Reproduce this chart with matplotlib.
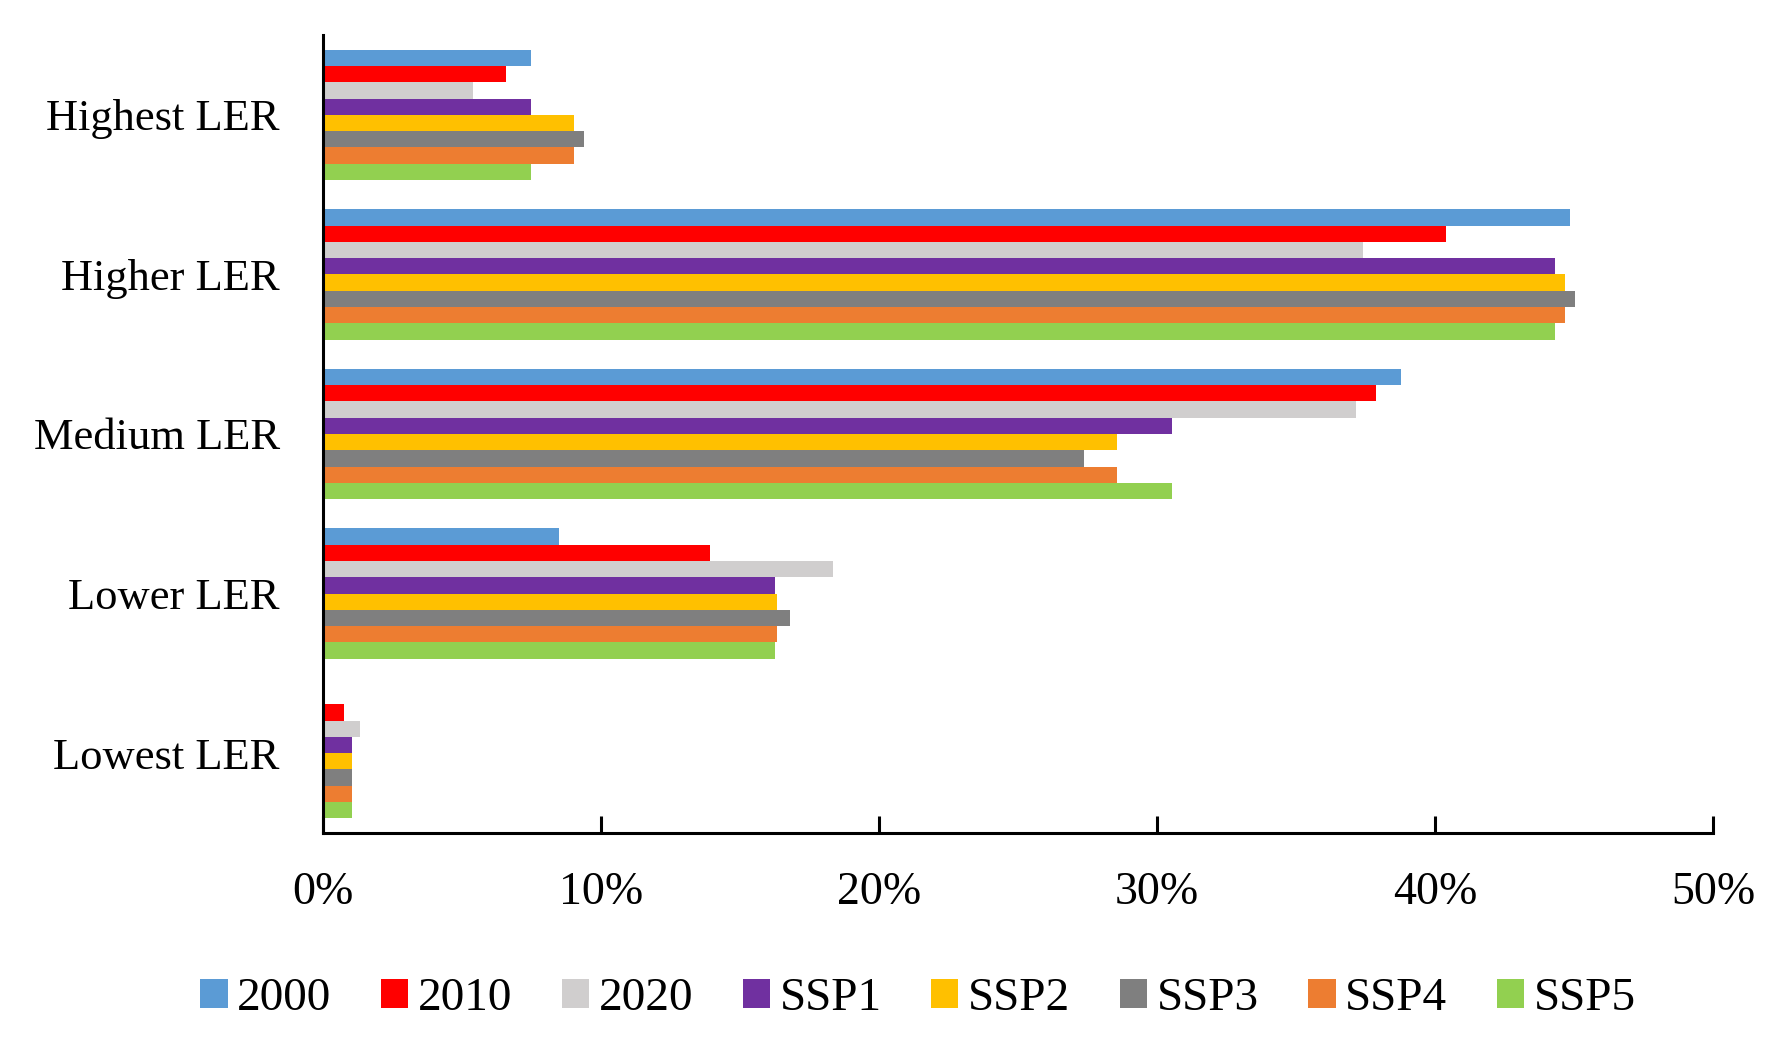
import numpy as np
import matplotlib
matplotlib.use('Agg')
import matplotlib.pyplot as plt
from matplotlib.ticker import PercentFormatter

# share of area in each LER class (%)
categories = ['Highest LER', 'Higher LER', 'Medium LER', 'Lower LER', 'Lowest LER']
series = ['2000', '2010', '2020', 'SSP1', 'SSP2', 'SSP3', 'SSP4', 'SSP5']

v2000 = [7.47, 44.85, 38.77, 8.48, 0.0]
v2010 = [6.58, 40.40, 37.88, 13.92, 0.77]
v2020 = [5.39, 37.40, 37.15, 18.34, 1.33]
ssp1 = [7.47, 44.30, 30.55, 16.25, 1.04]
ssp2 = [9.02, 44.66, 28.56, 16.34, 1.04]
ssp3 = [9.39, 45.03, 27.38, 16.81, 1.04]
ssp4 = [9.02, 44.66, 28.56, 16.34, 1.04]
ssp5 = [7.47, 44.30, 30.55, 16.25, 1.04]

colors = ['#5B9BD5', '#FF0000', '#D0CECE', '#7030A0',
          '#FFC000', '#7F7F7F', '#ED7D31', '#92D050']

plt.rcParams['font.family'] = ['Liberation Serif', 'DejaVu Serif']

fig = plt.figure(figsize=(17.87, 10.45), dpi=100)
ax = fig.add_axes([0.1807, 0.2029, 0.9586 - 0.1807, 0.9665 - 0.2029])

data = [v2000, v2010, v2020, ssp1, ssp2, ssp3, ssp4, ssp5]
y = np.arange(len(categories))
h = 0.817 / len(series)
for j, (name, vals) in enumerate(zip(series, data)):
    ax.barh(y + (j - 3.5) * h, vals, height=h, color=colors[j], label=name)

ax.set_ylim(4.5, -0.5)
ax.set_xlim(0, 50)
ax.set_xticks(np.arange(0, 51, 10))
ax.xaxis.set_major_formatter(PercentFormatter(decimals=0))
ax.set_yticks(y)
ax.set_yticklabels(categories)

for s in ['top', 'right']:
    ax.spines[s].set_visible(False)
for s in ['left', 'bottom']:
    ax.spines[s].set_linewidth(2.2)
    ax.spines[s].set_color('black')

ax.tick_params(axis='x', direction='in', length=12, width=2.2, pad=28, labelsize=33)
ax.tick_params(axis='y', length=0, pad=31, labelsize=32)

fig.legend(loc='center', bbox_to_anchor=(918 / 1787, 1 - 999 / 1045), ncol=8,
           frameon=False, fontsize=34, handlelength=0.58, handleheight=0.58,
           handletextpad=0.2, columnspacing=1.05, borderaxespad=0)

fig.savefig('out.png', dpi=100)
